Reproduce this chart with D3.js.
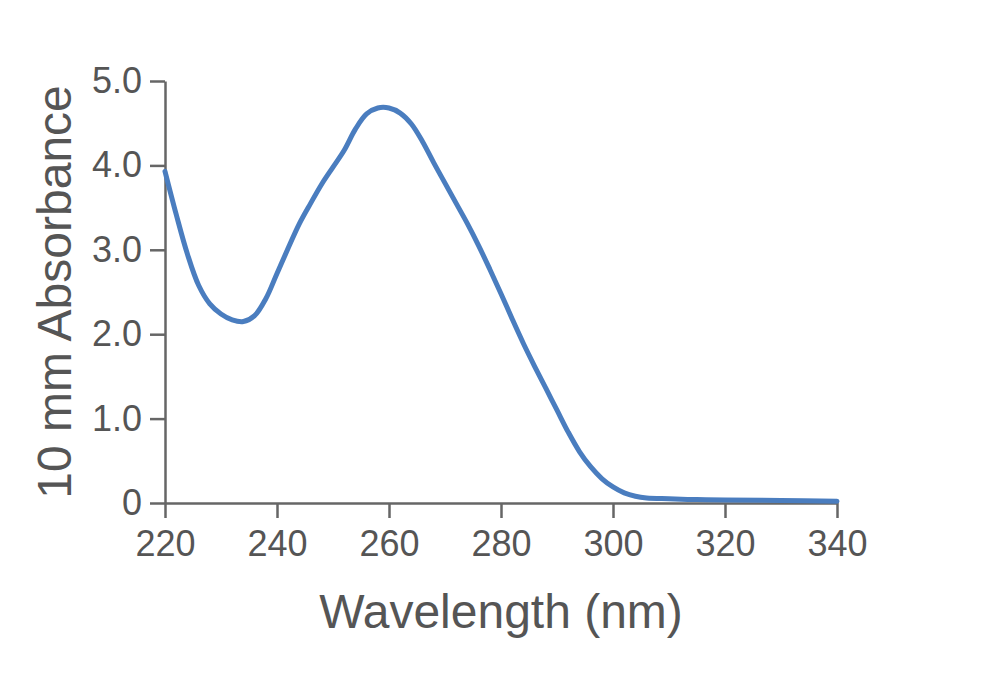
<!DOCTYPE html>
<html>
<head>
<meta charset="utf-8">
<script src="https://cdn.jsdelivr.net/npm/d3@7"></script>
<style>
  html, body { margin: 0; padding: 0; background: #fff; }
  svg { display: block; font-family: "Liberation Sans", Arial, Helvetica, sans-serif; }
</style>
</head>
<body>
<svg id="chart" width="1000" height="681"></svg>
<script>
const wavelength = [220,222,224,226,228,230,232,234,236,238,240,242,244,246,248,250,252,254,256,258,260,262,264,266,268,270,272,274,276,278,280,282,284,286,288,290,292,294,296,298,300,302,304,306,310,315,320,330,340];
const absorbance = [3.93,3.42,2.95,2.58,2.36,2.24,2.17,2.15,2.22,2.42,2.72,3.02,3.31,3.55,3.78,3.98,4.18,4.43,4.61,4.68,4.68,4.62,4.49,4.28,4.03,3.79,3.55,3.31,3.05,2.77,2.48,2.18,1.89,1.62,1.36,1.1,0.84,0.61,0.43,0.29,0.19,0.12,0.08,0.06,0.05,0.04,0.035,0.03,0.02];
const xTicks = [220,240,260,280,300,320,340];
const yTicks = [0,1,2,3,4,5];
const yTickLabels = ["0","1.0","2.0","3.0","4.0","5.0"];
const xTitle = "Wavelength (nm)";
const yTitle = "10 mm Absorbance";

(function () {
const svg = d3.select("#chart");
const mLeft = 165, mRight = 837, mTop = 81, mBottom = 503;
const x = d3.scaleLinear().domain([220, 340]).range([mLeft, mRight]);
const y = d3.scaleLinear().domain([0, 5]).range([mBottom, mTop]);

const axisColor = "#666";
const textColor = "#555";

const xAxis = svg.append("g")
  .attr("transform", `translate(0,${mBottom})`)
  .call(d3.axisBottom(x).tickValues(xTicks).tickSize(15).tickPadding(12).tickSizeOuter(0));
xAxis.select(".domain").attr("stroke", axisColor).attr("stroke-width", 2.5);
xAxis.selectAll(".tick line").attr("stroke", axisColor).attr("stroke-width", 2.5);
xAxis.selectAll(".tick text").attr("fill", textColor).attr("font-size", 36).attr("font-family", "Liberation Sans, Arial, sans-serif");

const yAxis = svg.append("g")
  .attr("transform", `translate(${mLeft},0)`)
  .call(d3.axisLeft(y).tickValues(yTicks).tickFormat((d, i) => yTickLabels[i]).tickSize(15).tickPadding(8).tickSizeOuter(0));
yAxis.select(".domain").attr("stroke", axisColor).attr("stroke-width", 2.5);
yAxis.selectAll(".tick line").attr("stroke", axisColor).attr("stroke-width", 2.5);
yAxis.selectAll(".tick text").attr("fill", textColor).attr("font-size", 36).attr("font-family", "Liberation Sans, Arial, sans-serif");

const data = wavelength.map((w, i) => ({ w, a: absorbance[i] }));
const line = d3.line().x(d => x(d.w)).y(d => y(d.a)).curve(d3.curveCatmullRom.alpha(0.5));
svg.append("path")
  .datum(data)
  .attr("d", line)
  .attr("fill", "none")
  .attr("stroke", "#4a7dbf")
  .attr("stroke-width", 5)
  .attr("stroke-linecap", "round")
  .attr("stroke-linejoin", "round");

svg.append("text")
  .attr("x", (mLeft + mRight) / 2 + 0)
  .attr("y", 628)
  .attr("text-anchor", "middle")
  .attr("fill", textColor)
  .attr("font-size", 48)
  .text(xTitle);

svg.append("text")
  .attr("transform", `translate(71,${(mTop + mBottom) / 2}) rotate(-90)`)
  .attr("text-anchor", "middle")
  .attr("fill", textColor)
  .attr("font-size", 48)
  .text(yTitle);
})();
</script>
</body>
</html>
